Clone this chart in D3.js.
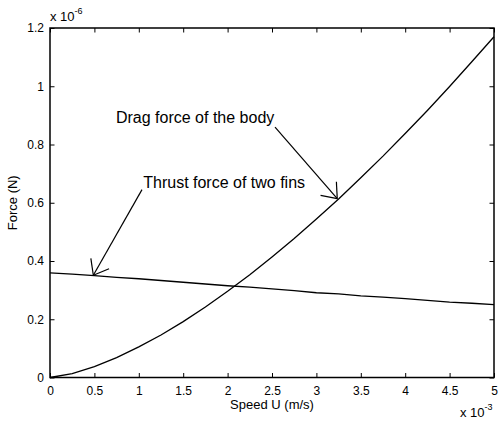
<!DOCTYPE html>
<html>
<head>
<meta charset="utf-8">
<script src="https://cdn.jsdelivr.net/npm/d3@7"></script>
<style>
  html, body { margin: 0; padding: 0; background: #fff; }
  svg { display: block; }
  text { font-family: "Liberation Sans", Arial, Helvetica, sans-serif; fill: #000; }
</style>
</head>
<body>
<svg id="chart" width="498" height="422"></svg>
<script>
// Speed U (x 10^-3 m/s)
const speed = [0, 0.25, 0.5, 0.75, 1.0, 1.25, 1.5, 1.75, 2.0, 2.25, 2.5, 2.75, 3.0, 3.25, 3.5, 3.75, 4.0, 4.25, 4.5, 4.75, 5.0];
// Drag force of the body (x 10^-6 N)
const dragForce = [0, 0.013, 0.037, 0.068, 0.105, 0.146, 0.192, 0.242, 0.296, 0.353, 0.414, 0.477, 0.544, 0.613, 0.686, 0.760, 0.838, 0.917, 0.999, 1.084, 1.170];
// Thrust force of two fins (x 10^-6 N)
const thrustForce = [0.359, 0.355, 0.350, 0.344, 0.339, 0.333, 0.327, 0.321, 0.315, 0.310, 0.304, 0.298, 0.291, 0.287, 0.280, 0.276, 0.271, 0.265, 0.259, 0.255, 0.250];
const xTicks = [0, 0.5, 1, 1.5, 2, 2.5, 3, 3.5, 4, 4.5, 5];
const yTicks = [0, 0.2, 0.4, 0.6, 0.8, 1, 1.2];
// annotations: [label, textX, textY, tailX, tailY, tipX, tipY] in data units
const annotations = [
  ["Drag force of the body", 0.743, 0.874, 2.534, 0.860, 3.235, 0.614],
  ["Thrust force of two fins", 1.05, 0.652, 1.036, 0.645, 0.488, 0.351]
];

const svg = d3.select("#chart");
const m = { left: 50, top: 28, right: 494, bottom: 377.5 };
const x = d3.scaleLinear().domain([0, 5]).range([m.left, m.right]);
const y = d3.scaleLinear().domain([0, 1.2]).range([m.bottom, m.top]);

const tickLen = 4.5;
const fmt = d => d3.format("")(d);

// Bottom axis
const gB = svg.append("g").attr("transform", `translate(0,${m.bottom})`)
  .call(d3.axisBottom(x).tickValues(xTicks).tickFormat(fmt).tickSizeInner(-tickLen).tickSizeOuter(0).tickPadding(9));
// Top axis (ticks only)
const gT = svg.append("g").attr("transform", `translate(0,${m.top})`)
  .call(d3.axisTop(x).tickValues(xTicks).tickFormat("").tickSizeInner(-tickLen).tickSizeOuter(0));
// Left axis
const gL = svg.append("g").attr("transform", `translate(${m.left},0)`)
  .call(d3.axisLeft(y).tickValues(yTicks).tickFormat(fmt).tickSizeInner(-tickLen).tickSizeOuter(0).tickPadding(6));
// Right axis (ticks only)
const gR = svg.append("g").attr("transform", `translate(${m.right},0)`)
  .call(d3.axisRight(y).tickValues(yTicks).tickFormat("").tickSizeInner(-tickLen).tickSizeOuter(0));

[gB, gT, gL, gR].forEach(g => {
  g.select(".domain").remove();
  g.selectAll(".tick line").attr("stroke", "#000").attr("stroke-width", 1);
  g.selectAll(".tick text").attr("font-size", 12).attr("font-family", "Liberation Sans, Arial, sans-serif").attr("fill", "#000");
});

// Box
svg.append("rect")
  .attr("x", m.left).attr("y", m.top)
  .attr("width", m.right - m.left).attr("height", m.bottom - m.top)
  .attr("fill", "none").attr("stroke", "#000").attr("stroke-width", 1.5);

// Lines
const line = d3.line().x((d, i) => x(speed[i])).y(d => y(d));
svg.append("path").datum(dragForce).attr("d", line)
  .attr("fill", "none").attr("stroke", "#000").attr("stroke-width", 1.3);
svg.append("path").datum(thrustForce).attr("d", line)
  .attr("fill", "none").attr("stroke", "#000").attr("stroke-width", 1.3);

// Annotations
const barbLen = 17, barbAng = 38 * Math.PI / 180;
annotations.forEach(a => {
  const [label, tx, ty, x0, y0, x1, y1] = a;
  svg.append("text").attr("x", x(tx)).attr("y", y(ty)).attr("font-size", 16).text(label);
  const px0 = x(x0), py0 = y(y0), px1 = x(x1), py1 = y(y1);
  svg.append("line").attr("x1", px0).attr("y1", py0).attr("x2", px1).attr("y2", py1)
    .attr("stroke", "#000").attr("stroke-width", 1.2);
  const back = Math.atan2(py0 - py1, px0 - px1);
  [-1, 1].forEach(s => {
    const ang = back + s * barbAng;
    svg.append("line").attr("x1", px1).attr("y1", py1)
      .attr("x2", px1 + barbLen * Math.cos(ang)).attr("y2", py1 + barbLen * Math.sin(ang))
      .attr("stroke", "#000").attr("stroke-width", 1.2);
  });
});

// Axis labels
svg.append("text").attr("x", (m.left + m.right) / 2).attr("y", 409)
  .attr("text-anchor", "middle").attr("font-size", 13).text("Speed U (m/s)");
svg.append("text").attr("transform", `translate(17,${(m.top + m.bottom) / 2}) rotate(-90)`)
  .attr("text-anchor", "middle").attr("font-size", 13).text("Force (N)");

// Exponent labels
const e6 = svg.append("text").attr("x", 50).attr("y", 21).attr("font-size", 13);
e6.append("tspan").text("x 10");
e6.append("tspan").attr("dy", -7).attr("font-size", 9).text("-6");
const e3 = svg.append("text").attr("x", 460).attr("y", 417).attr("font-size", 13);
e3.append("tspan").text("x 10");
e3.append("tspan").attr("dy", -7).attr("font-size", 9).text("-3");
</script>
</body>
</html>
